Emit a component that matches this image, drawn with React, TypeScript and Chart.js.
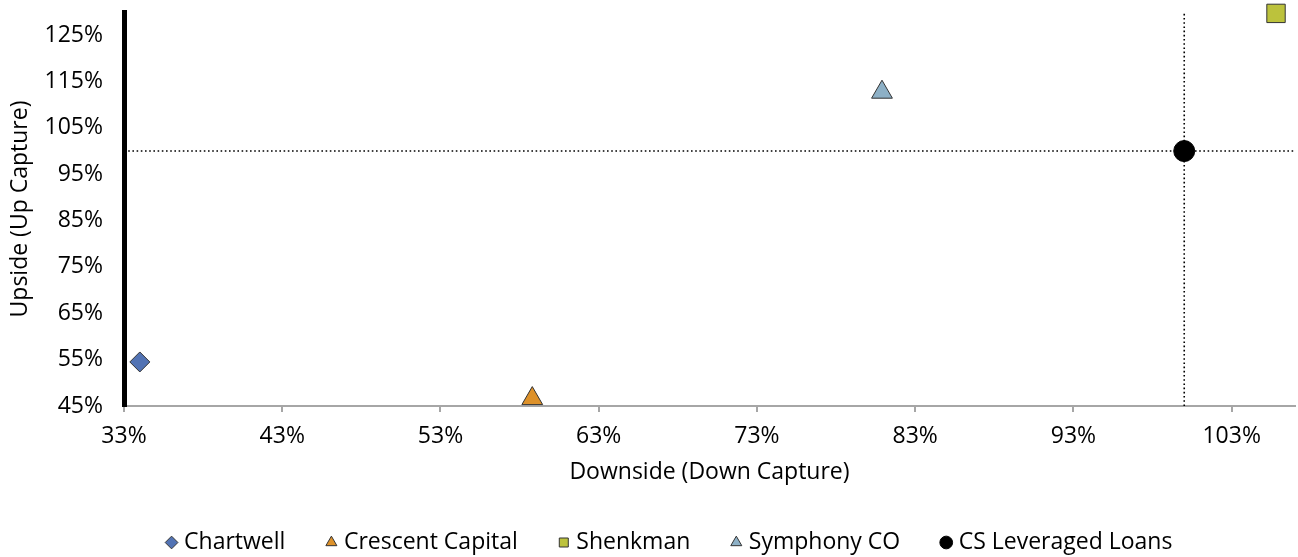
import React, { useEffect, useRef } from "react";
import { Chart, registerables } from "chart.js";

Chart.register(...registerables);

const seriesNames = ["Chartwell", "Crescent Capital", "Shenkman", "Symphony CO", "CS Leveraged Loans"];
const downCapture = [34.0, 58.8, 105.8, 80.9, 100.0];
const upCapture = [54.5, 46.6, 129.7, 112.7, 100.0];
const pointStyles = ["rectRot", "triangle", "rect", "triangle", "circle"];
const pointColors = ["#5273b4", "#dd912a", "#bcc23c", "#8db0c6", "#000000"];
const pointSizes = [10, 12, 13, 12, 10.5];

const xTicks = [33, 43, 53, 63, 73, 83, 93, 103];
const yTicks = [45, 55, 65, 75, 85, 95, 105, 115, 125];
const xRange = [33, 107];
const yRange = [45, 130];
const benchmark = 100;

const FONT = "'Open Sans', 'Noto Sans', sans-serif";
const FS = 23;

export default function App() {
  const ref = useRef<HTMLCanvasElement>(null);
  useEffect(() => {
    if (!ref.current) return;
    const pointSets = seriesNames.map((name, i) => ({
      label: name,
      data: [{ x: downCapture[i], y: upCapture[i] }],
      pointStyle: pointStyles[i],
      backgroundColor: pointColors[i],
      borderColor: i === 4 ? "#000000" : "#333333",
      borderWidth: 1,
      pointRadius: pointSizes[i],
      pointHoverRadius: pointSizes[i],
      clip: false,
      order: 1,
    }));
    const refLines = [
      {
        label: "_h",
        data: [
          { x: xRange[0], y: benchmark },
          { x: xRange[1], y: benchmark },
        ],
        showLine: true,
        pointRadius: 0,
        borderColor: "#000000",
        borderWidth: 1.6,
        borderDash: [1.6, 2.6],
        order: 10,
      },
      {
        label: "_v",
        data: [
          { x: benchmark, y: yRange[0] },
          { x: benchmark, y: yRange[1] },
        ],
        showLine: true,
        pointRadius: 0,
        borderColor: "#000000",
        borderWidth: 1.6,
        borderDash: [1.6, 2.6],
        order: 10,
      },
    ];
    const shiftLegend = {
      id: "shiftLegend",
      afterLayout(chart: any) {
        if (chart.legend) {
          chart.legend.left += 21;
          chart.legend.right += 21;
        }
      },
    };
    const chart = new Chart(ref.current, {
      type: "scatter",
      data: { datasets: [...pointSets, ...refLines] as any },
      plugins: [shiftLegend],
      options: {
        animation: false,
        responsive: false,
        maintainAspectRatio: false,
        layout: { autoPadding: false, padding: { left: 6, right: 3, top: 12, bottom: -7 } },
        plugins: {
          tooltip: { enabled: false },
          legend: {
            position: "bottom",
            labels: {
              filter: (item: any) => !String(item.text).startsWith("_"),
              usePointStyle: true,
              boxHeight: 9,
              boxWidth: 2,
              padding: 45,
              color: "#000000",
              font: { family: FONT, size: FS },
            },
          },
        },
        scales: {
          x: {
            type: "linear",
            min: xRange[0],
            max: xRange[1],
            afterBuildTicks: (s: any) => {
              s.ticks = xTicks.map((v) => ({ value: v }));
            },
            afterFit: (s: any) => {
              s.height = 80;
              s.paddingLeft = 0;
              s.paddingRight = 0;
            },
            ticks: {
              color: "#000000",
              font: { family: FONT, size: FS },
              padding: 11,
              callback: (v: any) => `${v}%`,
            },
            grid: { drawOnChartArea: false, drawTicks: true, tickLength: 6, color: "#a6a6a6", lineWidth: 2 },
            border: { display: true, color: "#a6a6a6", width: 2 },
            title: {
              display: true,
              text: "Downside (Down Capture)",
              color: "#000000",
              font: { family: FONT, size: FS },
              padding: { top: 0, bottom: 0 },
            },
          },
          y: {
            type: "linear",
            min: yRange[0],
            max: yRange[1],
            afterBuildTicks: (s: any) => {
              s.ticks = yTicks.map((v) => ({ value: v }));
            },
            afterFit: (s: any) => {
              s.width = 118;
              s.paddingTop = 0;
              s.paddingBottom = 0;
            },
            ticks: {
              color: "#000000",
              font: { family: FONT, size: FS },
              padding: 21,
              callback: (v: any) => `${v}%`,
            },
            grid: { drawOnChartArea: false, drawTicks: false },
            border: { display: true, color: "#000000", width: 5 },
            title: {
              display: true,
              text: "Upside (Up Capture)",
              color: "#000000",
              font: { family: FONT, size: FS },
              padding: { top: 1, bottom: 0 },
            },
          },
        },
      },
    });
    return () => chart.destroy();
  }, []);
  return (
    <div style={{ position: "absolute", left: 0, top: 0, width: 1298, height: 557, background: "#ffffff" }}>
      <canvas ref={ref} width={1298} height={557} style={{ display: "block" }} />
    </div>
  );
}
